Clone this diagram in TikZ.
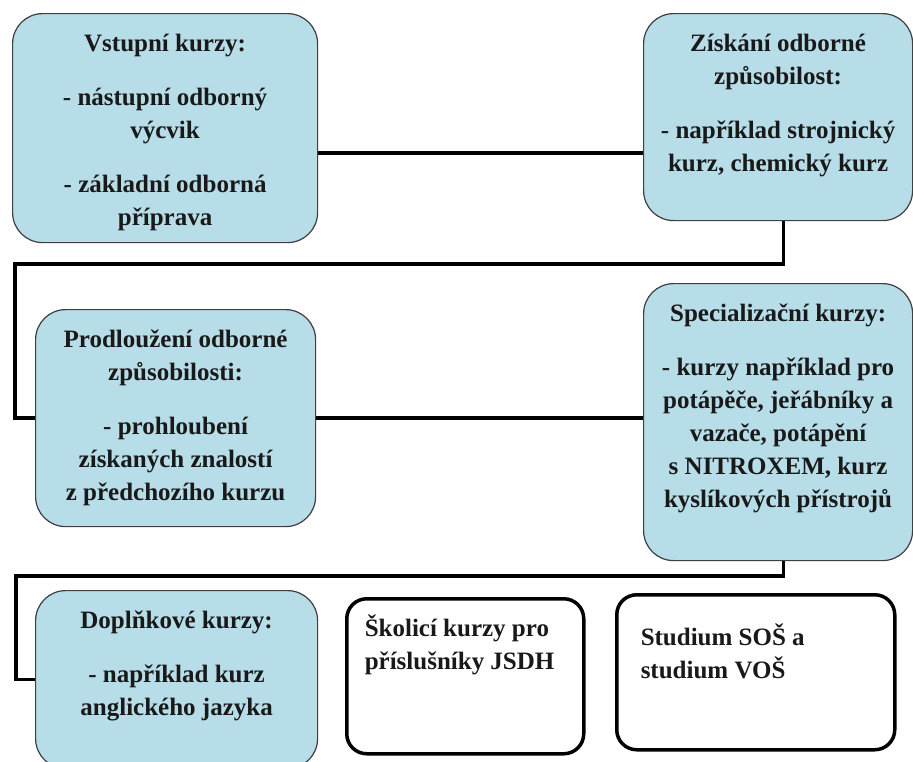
\documentclass[tikz,border=0pt]{standalone}
\usepackage{fontspec}
\setmainfont{Liberation Serif}
\usepackage{tikz}
\usetikzlibrary{positioning, calc}
\definecolor{kurzbg}{HTML}{B7DDE8}
\definecolor{kurzborder}{HTML}{3F3F3F}
% text boxes: width, height, text (centred, top aligned)
\newcommand{\kurztext}[3]{\parbox[t][#2][t]{#1}{\centering\rule{0pt}{38pt}#3}}
% text boxes: width, height, left indent, top strut, text
\newcommand{\studtext}[5]{\parbox[t][#2][t]{#1}{\raggedright\leftskip=#3\rule{0pt}{#4}#5}}

\begin{document}
\begin{tikzpicture}[
  x=1pt, y=-1pt,
  kurz/.style={rectangle, rounded corners=30pt, draw=kurzborder, line width=1.2pt,
               fill=kurzbg, inner sep=0pt, anchor=north west,
               font=\fontsize{25}{33}\selectfont\bfseries\color{black!90}},
  studium/.style={rectangle, rounded corners=20pt, draw=black, line width=3.5pt,
               fill=white, inner sep=0pt, anchor=north west,
               font=\fontsize{25}{33}\selectfont\bfseries\color{black!90}},
  conn/.style={line width=3.5pt, color=black}
]
  \useasboundingbox (0,0) rectangle (913,761);

  \node[kurz] (vstup) at (12,13) {\kurztext{305pt}{229pt}{Vstupní kurzy:\\[21pt]
    - nástupní odborný\\ výcvik\\[21pt] - základní odborná\\ příprava}};
  \node[kurz] (ziskani) at (643,13) {\kurztext{269pt}{207pt}{Získání odborné\\
    způsobilost:\\[21pt] - například strojnický\\ kurz, chemický kurz}};
  \node[kurz] (prodl) at (35,309) {\kurztext{280pt}{217pt}{Prodloužení odborné\\
    způsobilosti:\\[21pt] - prohloubení\\ získaných znalostí\\ z předchozího kurzu}};
  \node[kurz] (special) at (643,283) {\kurztext{269pt}{277pt}{Specializační kurzy:\\[21pt]
    - kurzy například pro\\ potápěče, jeřábníky a\\ vazače, potápění\\
    s NITROXEM, kurz\\ kyslíkových přístrojů}};
  \node[kurz] (doplnk) at (35,590) {\kurztext{282pt}{178pt}{Doplňkové kurzy:\\[21pt]
    - například kurz\\ anglického jazyka}};
  \node[studium] (skolici) at (345,597) {\studtext{237pt}{155pt}{18pt}{38pt}{Školicí kurzy pro\\
    příslušníky JSDH}};
  \node[studium] (vos) at (615,593) {\studtext{278pt}{155pt}{24pt}{51pt}{Studium SOŠ a\\
    studium VOŠ}};

  \coordinate (j1) at (0,153);
  \draw[conn] (vstup.east |- j1) -- (ziskani.west |- j1);
  \draw[conn] ([xshift=5.5pt]ziskani.south) -- ++(0,43) -| ([xshift=-20pt]prodl.west) -- (prodl.west);
  \draw[conn] (prodl.east) -- (prodl.east -| special.west);
  \draw[conn] ([xshift=5.5pt]special.south) -- ++(0,15) -| ([xshift=-19pt]doplnk.west) -- (doplnk.west);
\end{tikzpicture}
\end{document}
